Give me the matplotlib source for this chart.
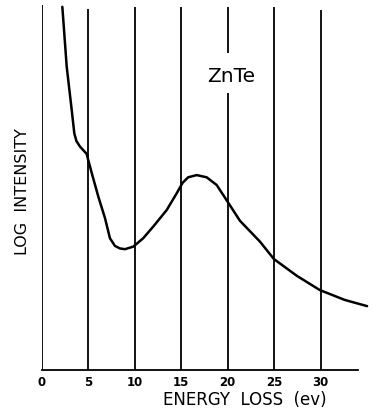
import matplotlib
matplotlib.use("Agg")
from matplotlib import pyplot as plt

# Courbe ZnTe, intensite en unites arbitraires (log)
energy = [2.22, 2.69, 3.23, 3.51, 3.74, 4.12, 4.84, 5.01, 5.38, 6.09, 6.81,
          7.34, 7.88, 8.42, 8.96, 9.85, 10.92, 12.0, 13.44, 14.52, 15.16,
          15.76, 16.67, 17.74, 18.82, 20.0, 21.32, 23.47, 24.98, 27.45,
          29.92, 32.6, 35.0]
log_int = [9.95, 8.31, 7.12, 6.48, 6.27, 6.12, 5.92, 5.75, 5.40, 4.75, 4.16,
           3.61, 3.40, 3.33, 3.31, 3.38, 3.61, 3.93, 4.38, 4.84, 5.13,
           5.28, 5.34, 5.28, 5.07, 4.61, 4.09, 3.52, 3.04, 2.58,
           2.19, 1.92, 1.75]

# Lignes verticales de la grille
grid_x = [0, 5, 10, 15, 20, 25, 30]
grid_top = [10.0, 9.9, 9.95, 9.95, 9.95, 9.95, 9.86]
tick_labels = ["0", "5", "10", "15", "20", "25", "30"]

fig = plt.figure(figsize=(3.73, 4.08), dpi=100)
ax = fig.add_axes([41.7 / 373, 38 / 408, 330 / 373, 365 / 408])

for x, top in zip(grid_x, grid_top):
    if x == 20:
        # coupure autour du texte ZnTe
        ax.vlines(x, 0, 7.59, color="black", lw=1.3)
        ax.vlines(x, 8.68, top, color="black", lw=1.3)
    else:
        ax.vlines(x, 0, top, color="black", lw=1.3)

ax.plot(energy, log_int, color="black", lw=1.8,
        solid_capstyle="round", solid_joinstyle="round")

ax.text(20.4, 8.05, "ZnTe", fontsize=14.5, ha="center", va="center")

ax.set_xlim(0, 35.5)
ax.set_ylim(0, 10)
for s in ["top", "right", "left"]:
    ax.spines[s].set_visible(False)
ax.spines["bottom"].set_bounds(0, 34)
ax.spines["bottom"].set_linewidth(1.3)
ax.set_yticks([])
ax.set_xticks(grid_x)
ax.set_xticklabels(tick_labels, fontsize=8.5, fontweight="bold")
ax.tick_params(axis="x", length=0, pad=4)

fig.text(245 / 373, 1 - 400 / 408, "ENERGY  LOSS  (ev)", fontsize=12,
         ha="center", va="center")
fig.text(23 / 373, 1 - 192 / 408, "LOG  INTENSITY", fontsize=11.5,
         rotation=90, ha="center", va="center")

fig.savefig("out.png", dpi=100)
plt.close(fig)
